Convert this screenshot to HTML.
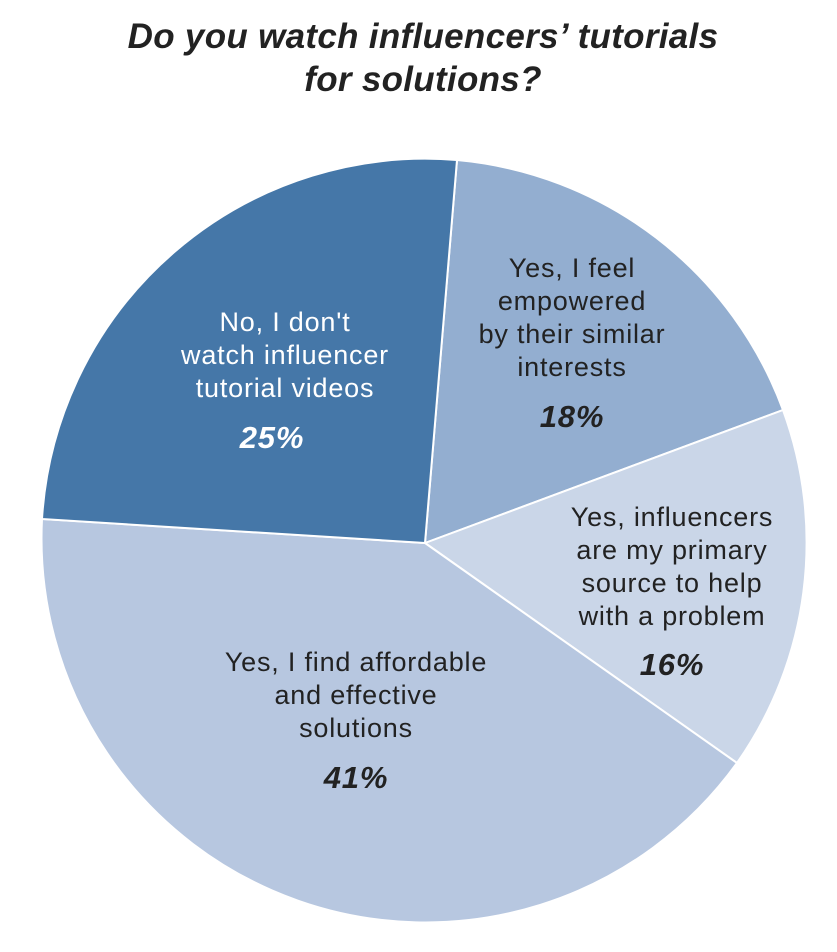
<!DOCTYPE html>
<html><head><style>
body{margin:0;background:#fff;width:837px;height:947px;overflow:hidden}
</style></head><body>
<svg width="837" height="947" viewBox="0 0 837 947" xmlns="http://www.w3.org/2000/svg" font-family="Liberation Sans, sans-serif">
<text x="423" y="48" text-anchor="middle" font-size="35" font-weight="bold" font-style="italic" fill="#222" letter-spacing="0.3">Do you watch influencers’ tutorials</text>
<text x="423" y="91" text-anchor="middle" font-size="35" font-weight="bold" font-style="italic" fill="#222" letter-spacing="0.3">for solutions?</text>
<g stroke="#fff" stroke-width="2">
<path d="M425,543 L457,160 A384,384 0 0 1 783,410 Z" fill="#93aed0"/>
<path d="M425,543 L783,410 A384,384 0 0 1 737,763 Z" fill="#cad6e8"/>
<path d="M425,543 L737,763 A384,384 0 0 1 42,519 Z" fill="#b7c7e0"/>
<path d="M425,543 L42,519 A384,384 0 0 1 457,160 Z" fill="#4577a8"/>
</g>
<g font-size="27" text-anchor="middle" fill="#fff" letter-spacing="0.8">
<text x="285" y="331">No, I don't</text>
<text x="285" y="364">watch influencer</text>
<text x="285" y="397">tutorial videos</text>
<text x="272" y="448" font-weight="bold" font-style="italic" font-size="31">25%</text>
</g>
<g font-size="27" text-anchor="middle" fill="#222" letter-spacing="0.8">
<text x="572" y="277">Yes, I feel</text>
<text x="572" y="310">empowered</text>
<text x="572" y="343">by their similar</text>
<text x="572" y="376">interests</text>
<text x="572" y="427" font-weight="bold" font-style="italic" font-size="31">18%</text>
<text x="672" y="526">Yes, influencers</text>
<text x="672" y="559">are my primary</text>
<text x="672" y="592">source to help</text>
<text x="672" y="625">with a problem</text>
<text x="672" y="675" font-weight="bold" font-style="italic" font-size="31">16%</text>
<text x="356" y="671">Yes, I find affordable</text>
<text x="356" y="704">and effective</text>
<text x="356" y="737">solutions</text>
<text x="356" y="788" font-weight="bold" font-style="italic" font-size="31">41%</text>
</g>
</svg>
</body></html>
